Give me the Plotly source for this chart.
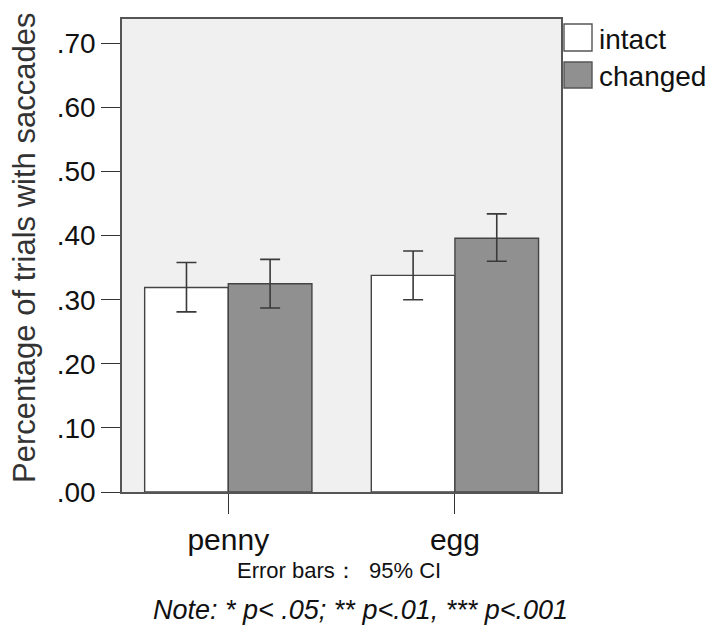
import plotly.graph_objects as go

categories = ["penny", "egg"]
series_names = ["intact", "changed"]
intact_vals = [0.319, 0.338]
intact_err_hi = [0.039, 0.038]
intact_err_lo = [0.038, 0.038]
changed_vals = [0.325, 0.396]
changed_err_hi = [0.038, 0.038]
changed_err_lo = [0.038, 0.036]
y_tickvals = [0.0, 0.1, 0.2, 0.3, 0.4, 0.5, 0.6, 0.7]
y_ticktext = [".00", ".10", ".20", ".30", ".40", ".50", ".60", ".70"]
colors = ["#ffffff", "#909090"]

W, H = 714, 625
ML, MR, MT, MB = 122, 153, 19, 133
PW = W - ML - MR
PH = H - MT - MB

def px_x(px):
    return (px - ML) / PW

def px_y(py):
    return (H - MB - py) / PH

FONT = "Liberation Sans, Arial, sans-serif"

fig = go.Figure()
for name, vals, hi, lo, col in [
    (series_names[0], intact_vals, intact_err_hi, intact_err_lo, colors[0]),
    (series_names[1], changed_vals, changed_err_hi, changed_err_lo, colors[1]),
]:
    fig.add_trace(go.Bar(
        x=categories, y=vals, name=name,
        marker=dict(color=col, line=dict(color="#444444", width=1.4)),
        error_y=dict(type="data", array=hi, arrayminus=lo, symmetric=False,
                     color="#3a3a3a", thickness=1.6, width=10),
        showlegend=False,
    ))

fig.update_layout(
    width=W, height=H,
    margin=dict(l=ML, r=MR, t=MT, b=MB, pad=0),
    paper_bgcolor="white",
    plot_bgcolor="#f0f0f0",
    barmode="group", bargap=0.262, bargroupgap=0,
    font=dict(family=FONT, color="#111111"),
)
fig.update_xaxes(
    range=[-0.469, 1.468], showline=True, linecolor="#555555", linewidth=1.6,
    mirror=True, ticks="outside", ticklen=20, tickcolor="#333333", tickwidth=1.4,
    tickfont=dict(size=30, color="#111111"), showgrid=False, zeroline=False,
)
fig.update_yaxes(
    range=[0, 0.738], tickvals=y_tickvals, ticktext=y_ticktext,
    showline=True, linecolor="#555555", linewidth=1.6, mirror=True,
    ticks="outside", ticklen=19, tickcolor="#333333", tickwidth=1.4,
    tickfont=dict(size=28, color="#111111"), showgrid=False, zeroline=False,
    ticklabelstandoff=0,
)

# y-axis title
fig.add_annotation(
    text="Percentage of trials with saccades", textangle=-90,
    xref="paper", yref="paper", x=px_x(24), y=px_y(248),
    xanchor="center", yanchor="middle", showarrow=False,
    font=dict(size=31, color="#333333", family=FONT),
)

# custom legend
legend_boxes = [(564, 24, 592, 51), (564, 62, 592, 88)]
legend_text_y = [39, 77]
for (x0, y0, x1, y1), name, col, ty in zip(legend_boxes, series_names, colors, legend_text_y):
    fig.add_shape(type="rect", xref="paper", yref="paper",
                  x0=px_x(x0), x1=px_x(x1), y0=px_y(y1), y1=px_y(y0),
                  fillcolor=col, line=dict(color="#555555", width=1.4))
    fig.add_annotation(text=name, xref="paper", yref="paper",
                       x=px_x(597), y=px_y(ty), xanchor="left", yanchor="middle",
                       showarrow=False, font=dict(size=28, color="#111111", family=FONT))

fig.add_annotation(text="Error bars：  95% CI", xref="paper", yref="paper",
                   x=px_x(339), y=px_y(570), xanchor="center", yanchor="middle",
                   showarrow=False, font=dict(size=22, color="#111111", family=FONT))
fig.add_annotation(text="<i>Note: * p< .05; ** p<.01, *** p<.001</i>", xref="paper", yref="paper",
                   x=px_x(360), y=px_y(610), xanchor="center", yanchor="middle",
                   showarrow=False, font=dict(size=27, color="#111111", family=FONT))

fig.write_html("out.html")
